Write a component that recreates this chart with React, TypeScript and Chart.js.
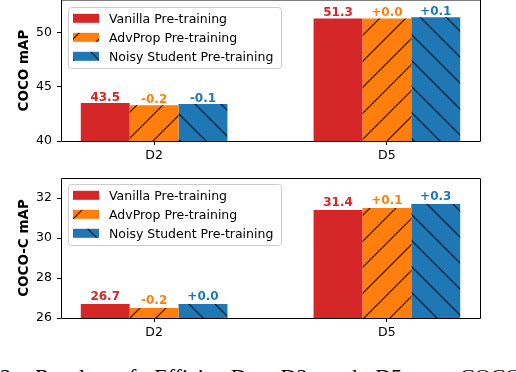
import React, { useEffect, useRef } from "react";
import { Chart, registerables } from "chart.js";

Chart.register(...registerables);

// ---------------- data ----------------
const categories = ["D2", "D5"];
const seriesNames = ["Vanilla Pre-training", "AdvProp Pre-training", "Noisy Student Pre-training"];

const cocoVanilla = [43.5, 51.3];
const cocoAdvProp = [43.3, 51.3];
const cocoNoisy = [43.4, 51.4];
const cocoVanillaText = ["43.5", "51.3"];
const cocoAdvPropText = ["-0.2", "+0.0"];
const cocoNoisyText = ["-0.1", "+0.1"];
const cocoTicks = [40, 45, 50];

const cococVanilla = [26.7, 31.4];
const cococAdvProp = [26.5, 31.5];
const cococNoisy = [26.7, 31.7];
const cococVanillaText = ["26.7", "31.4"];
const cococAdvPropText = ["-0.2", "+0.1"];
const cococNoisyText = ["+0.0", "+0.3"];
const cococTicks = [26, 28, 30, 32];

const captionText = "2: Results of EfficientDet D2 and D5 on COCO";

// ---------------- styles ----------------
const COLORS = ["#d62728", "#ff7f0e", "#1f77b4"];
const HATCH = ["", "/", "\\"];
const FAMILY = '"DejaVu Sans", sans-serif';
const LABEL_OFFSET = 0.2;

Chart.defaults.font.family = FAMILY;

function makeFill(ctx: CanvasRenderingContext2D, color: string, hatch: string, phase: number, pageTop: number): any {
  if (!hatch) return color;
  const s = 26;
  const t = document.createElement("canvas");
  t.width = s;
  t.height = s;
  const g = t.getContext("2d")!;
  g.fillStyle = color;
  g.fillRect(0, 0, s, s);
  g.strokeStyle = "#000";
  g.lineWidth = 1.1;
  const mod = (a: number) => ((a % s) + s) % s;
  const k0 = hatch === "/" ? mod(phase - pageTop) : mod(phase + pageTop);
  g.beginPath();
  for (let m = -2; m <= 2; m++) {
    const k = k0 + m * s;
    if (hatch === "/") {
      g.moveTo(k + 2, -2);
      g.lineTo(k - s - 2, s + 2);
    } else {
      g.moveTo(k - 2, -2);
      g.lineTo(k + s + 2, s + 2);
    }
  }
  g.stroke();
  return ctx.createPattern(t, "repeat");
}

const zeroPadding = (s: any) => {
  s.paddingTop = 0;
  s.paddingBottom = 0;
  s.paddingLeft = 0;
  s.paddingRight = 0;
};

type PanelProps = {
  yTitle: string;
  series: number[][];
  texts: string[][];
  ticks: number[];
  yMin: number;
  yMax: number;
  top: number;
  height: number;
  padTop: number;
  xAxisHeight: number;
  hatchPhase: number[];
  frameTopCrisp: boolean;
  legendTop: number;
};

function Panel(p: PanelProps) {
  const ref = useRef<HTMLCanvasElement>(null);
  useEffect(() => {
    const canvas = ref.current!;
    const ctx = canvas.getContext("2d")!;
    const fills = COLORS.map((c, i) => makeFill(ctx, c, HATCH[i], p.hatchPhase[i], p.top));

    const overlay = {
      id: "overlay",
      afterDatasetsDraw(chart: any) {
        const c = chart.ctx as CanvasRenderingContext2D;
        const ca = chart.chartArea;
        const yScale = chart.scales.y;
        c.save();
        // frame (spines)
        c.strokeStyle = "#000";
        c.lineWidth = 1;
        c.beginPath();
        const L = ca.left + 0.5;
        const R = ca.right + 0.5;
        const B = ca.bottom + 0.5;
        const T = p.frameTopCrisp ? ca.top + 0.5 : ca.top;
        c.moveTo(L, T);
        c.lineTo(L, B);
        c.lineTo(R, B);
        c.lineTo(R, T);
        c.lineTo(L, T);
        c.stroke();

        // value labels
        c.font = `bold 12px ${FAMILY}`;
        c.textAlign = "center";
        c.textBaseline = "alphabetic";
        p.series.forEach((vals, di) => {
          const meta = chart.getDatasetMeta(di);
          c.fillStyle = COLORS[di];
          vals.forEach((v, j) => {
            const el = meta.data[j];
            c.fillText(p.texts[di][j], el.x, yScale.getPixelForValue(v + LABEL_OFFSET));
          });
        });

        // legend
        const bx = ca.left + 7;
        const by = ca.top + p.legendTop;
        c.beginPath();
        (c as any).roundRect(bx + 0.5, by + 0.5, 213, 61, 3);
        c.fillStyle = "rgba(255,255,255,0.8)";
        c.fill();
        c.strokeStyle = "#cccccc";
        c.stroke();
        c.font = `12.5px ${FAMILY}`;
        c.textAlign = "left";
        seriesNames.forEach((name, i) => {
          const cy = by + 11.3 + i * 19;
          c.fillStyle = fills[i];
          c.fillRect(bx + 5, cy - 4.5, 26, 9);
          c.fillStyle = "#000";
          c.fillText(name, bx + 41, cy + 4.5);
        });

        // y title
        c.save();
        c.translate(24.5, (ca.top + ca.bottom) / 2);
        c.rotate(-Math.PI / 2);
        c.font = `bold 13.5px ${FAMILY}`;
        c.textAlign = "center";
        c.textBaseline = "middle";
        c.fillStyle = "#000";
        c.fillText(p.yTitle, 0, 0);
        c.restore();
        c.restore();
      },
    };

    const chart = new Chart(ctx, {
      type: "bar",
      data: {
        datasets: p.series.map((vals, i) => ({
          label: seriesNames[i],
          data: vals.map((v, j) => ({ x: j, y: v })),
          backgroundColor: fills[i],
          hoverBackgroundColor: fills[i],
          borderWidth: 0,
          categoryPercentage: 0.63,
          barPercentage: 1,
        })),
      },
      options: {
        animation: false,
        responsive: false,
        devicePixelRatio: 1,
        events: [],
        layout: { padding: { left: 0, right: 36, top: p.padTop, bottom: 0 }, autoPadding: false },
        plugins: { legend: { display: false }, tooltip: { enabled: false } },
        scales: {
          x: {
            type: "linear",
            offset: false,
            min: -0.4,
            max: 1.4,
            afterBuildTicks: (s: any) => {
              s.ticks = categories.map((_, i) => ({ value: i }));
            },
            afterFit: (s: any) => {
              s.height = p.xAxisHeight;
              zeroPadding(s);
            },
            ticks: {
              callback: (v: any) => categories[v] ?? "",
              color: "#000",
              font: { family: FAMILY, size: 12.5 },
              padding: 3,
              maxRotation: 0,
              autoSkip: false,
            },
            grid: { offset: false, drawOnChartArea: false, drawTicks: true, tickLength: 4, color: "#000", lineWidth: 1 },
            border: { display: false },
          },
          y: {
            type: "linear",
            min: p.yMin,
            max: p.yMax,
            afterBuildTicks: (s: any) => {
              s.ticks = p.ticks.map((v) => ({ value: v }));
            },
            afterFit: (s: any) => {
              s.width = 61;
              zeroPadding(s);
            },
            ticks: {
              color: "#000",
              font: { family: FAMILY, size: 12.5 },
              padding: 5,
            },
            grid: { drawOnChartArea: false, drawTicks: true, tickLength: 4, color: "#000", lineWidth: 1 },
            border: { display: false },
          },
        },
      } as any,
      plugins: [overlay],
    });
    return () => chart.destroy();
  }, []);
  return (
    <canvas
      ref={ref}
      width={516}
      height={p.height}
      style={{ position: "absolute", left: 0, top: p.top, width: 516, height: p.height }}
    />
  );
}

export default function App() {
  return (
    <div
      style={{
        position: "fixed",
        left: 0,
        top: 0,
        width: 516,
        height: 372,
        overflow: "hidden",
        background: "#fff",
      }}
    >
      <Panel
        yTitle="COCO mAP"
        series={[cocoVanilla, cocoAdvProp, cocoNoisy]}
        texts={[cocoVanillaText, cocoAdvPropText, cocoNoisyText]}
        ticks={cocoTicks}
        yMin={40}
        yMax={53}
        top={0}
        height={170}
        padTop={0}
        xAxisHeight={29}
        hatchPhase={[0, 8, 13]}
        frameTopCrisp={false}
        legendTop={7}
      />
      <Panel
        yTitle="COCO-C mAP"
        series={[cococVanilla, cococAdvProp, cococNoisy]}
        texts={[cococVanillaText, cococAdvPropText, cococNoisyText]}
        ticks={cococTicks}
        yMin={26}
        yMax={33}
        top={170}
        height={175}
        padTop={8}
        xAxisHeight={27}
        hatchPhase={[0, 6, 15]}
        frameTopCrisp={true}
        legendTop={6}
      />
      <div
        style={{
          position: "absolute",
          left: 0,
          top: 366,
          fontFamily: '"Liberation Serif", serif',
          fontSize: 22,
          lineHeight: "22px",
          wordSpacing: 12.5,
          whiteSpace: "nowrap",
          color: "#000",
        }}
      >
        {captionText}
      </div>
    </div>
  );
}
